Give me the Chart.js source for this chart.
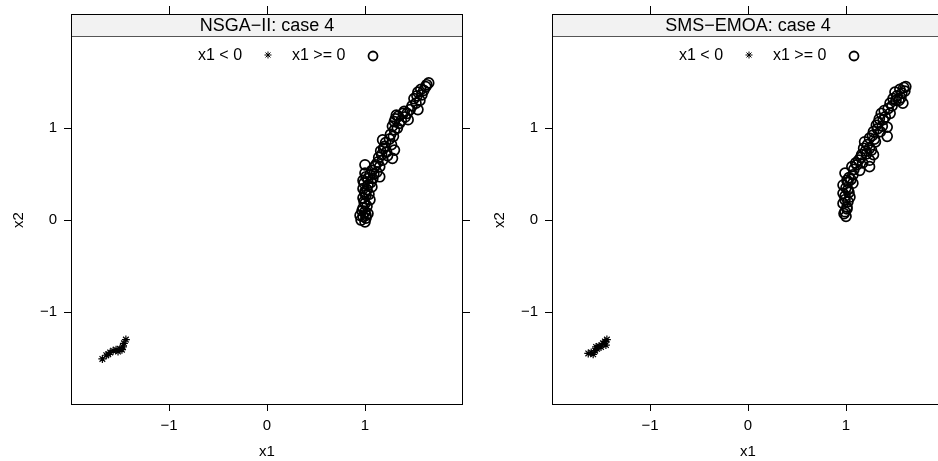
<!DOCTYPE html>
<html>
<head>
<meta charset="utf-8">
<script src="https://cdn.jsdelivr.net/npm/chart.js@4.4.1/dist/chart.umd.min.js"></script>
<style>
  html, body { margin: 0; padding: 0; background: #fff; overflow: hidden; width: 938px; height: 461px; }
  .panel { position: absolute; top: 0; width: 481px; height: 461px; }
</style>
</head>
<body>
<div class="panel" style="left:0"><canvas id="nsga" width="481" height="461"></canvas></div>
<div class="panel" style="left:481px"><canvas id="sms" width="481" height="461"></canvas></div>
<script>
// ─── Data ─────────────────────────────────────────────────
const X_TICKS = [-1, 0, 1];
const Y_TICKS = [-1, 0, 1];
const LEGEND_LABELS = ['x1 < 0', 'x1 >= 0'];

// NSGA-II, x1 >= 0 (circles)
const NSGA_POS_X = [1.65, 1.60, 1.54, 1.56, 1.52, 1.54, 1.46, 1.44, 1.39, 1.32, 1.30, 1.35, 1.30, 1.29, 1.18,
  1.20, 1.27, 1.30, 1.22, 1.17, 1.28, 1.18, 1.13, 1.15, 1.10, 1.07, 1.00, 1.05, 1.15, 1.00, 1.08, 0.98,
  1.03, 1.07, 0.98, 1.00, 0.98, 1.05, 1.00, 0.98, 1.00, 0.95, 1.01, 1.00, 1.01, 0.98,
  1.02, 0.99, 1.01, 1.03, 1.12, 1.25, 1.33, 1.41, 1.48, 1.58, 1.62,
  0.97, 1.03, 0.99, 1.02, 1.00, 1.04, 0.96, 1.01, 1.06, 1.09, 1.11, 1.14, 1.16, 1.19, 1.21, 1.23,
  1.26, 1.28, 1.31, 1.34, 1.37, 1.40, 1.43, 1.50, 1.53, 1.57, 1.63];
const NSGA_POS_Y = [1.49, 1.41, 1.39, 1.30, 1.27, 1.20, 1.20, 1.09, 1.16, 1.14, 1.07, 1.05, 0.98, 0.91, 0.87,
  0.80, 0.82, 0.76, 0.74, 0.71, 0.67, 0.65, 0.63, 0.58, 0.58, 0.54, 0.60, 0.49, 0.47, 0.51, 0.45, 0.43,
  0.38, 0.36, 0.34, 0.29, 0.24, 0.22, 0.18, 0.13, 0.09, 0.05, 0.02, -0.02, 0.05, 0.04,
  0.33, 0.40, 0.27, 0.45, 0.52, 0.88, 1.00, 1.12, 1.24, 1.36, 1.45,
  0.10, 0.07, 0.20, 0.15, 0.31, 0.28, 0.00, 0.47, 0.41, 0.50, 0.60, 0.68, 0.75, 0.78, 0.84, 0.70,
  0.93, 1.02, 1.10, 1.13, 1.08, 1.18, 1.16, 1.32, 1.35, 1.42, 1.47];

// NSGA-II, x1 < 0 (stars)
const NSGA_NEG_X = [-1.68, -1.64, -1.62, -1.60, -1.57, -1.54, -1.52, -1.50, -1.48, -1.47, -1.46, -1.44];
const NSGA_NEG_Y = [-1.51, -1.47, -1.46, -1.44, -1.42, -1.41, -1.43, -1.40, -1.41, -1.38, -1.34, -1.30];

// SMS-EMOA, x1 >= 0 (circles)
const SMS_POS_X = [1.61, 1.57, 1.50, 1.58, 1.51, 1.45, 1.45, 1.36, 1.38, 1.42, 1.31, 1.35, 1.42, 1.28, 1.24,
  1.30, 1.19, 1.24, 1.28, 1.18, 1.16, 1.24, 1.24, 1.13, 1.14, 1.06, 1.07, 0.99, 1.01, 1.07, 0.97, 1.02,
  0.97, 1.04, 0.99, 1.01, 0.99, 1.00, 0.97,
  1.03, 1.10, 1.20, 1.33, 1.40, 1.48, 1.55, 1.60, 1.00, 1.02,
  0.98, 1.01, 1.03, 0.99, 1.02, 1.05, 1.08, 1.11, 1.15, 1.17, 1.21, 1.22, 1.26, 1.27, 1.29, 1.32,
  1.34, 1.37, 1.39, 1.43, 1.47, 1.52, 1.54, 1.59, 1.56];
const SMS_POS_Y = [1.45, 1.38, 1.39, 1.27, 1.30, 1.27, 1.16, 1.16, 1.09, 1.01, 1.03, 0.96, 0.91, 0.96, 0.89,
  0.85, 0.85, 0.78, 0.71, 0.78, 0.71, 0.65, 0.58, 0.65, 0.54, 0.58, 0.49, 0.51, 0.43, 0.40, 0.38, 0.33,
  0.29, 0.25, 0.22, 0.14, 0.09, 0.04, 0.18,
  0.46, 0.62, 0.75, 1.06, 1.12, 1.32, 1.42, 1.40, 0.35, 0.20,
  0.07, 0.12, 0.30, 0.26, 0.41, 0.44, 0.55, 0.60, 0.68, 0.62, 0.72, 0.82, 0.76, 0.92, 0.88, 0.99,
  1.10, 1.02, 1.19, 1.21, 1.24, 1.35, 1.30, 1.44, 1.33];

// SMS-EMOA, x1 < 0 (stars)
const SMS_NEG_X = [-1.63, -1.60, -1.58, -1.56, -1.55, -1.54, -1.52, -1.50, -1.48, -1.46, -1.45, -1.44];
const SMS_NEG_Y = [-1.45, -1.44, -1.46, -1.42, -1.38, -1.40, -1.37, -1.38, -1.34, -1.32, -1.36, -1.30];

// ─── Styling ──────────────────────────────────────────────
const FONT = "'Liberation Sans', Arial, Helvetica, sans-serif";
const INK = '#000';
const STRIP_BG = '#f2f2f2';

Chart.defaults.font.family = FONT;
Chart.defaults.color = INK;

const toPoints = (xs, ys) => xs.map((x, i) => ({ x, y: ys[i] }));
const fmt = v => (v < 0 ? '\u2212' + Math.abs(v) : String(v));

// strip, box, mirrored ticks and in-panel key, lattice style
const latticePanel = {
  id: 'latticePanel',
  afterDraw(chart, args, opts) {
    const { ctx, chartArea: a, scales } = chart;
    const stripTop = 14;
    ctx.save();

    // strip
    ctx.fillStyle = STRIP_BG;
    ctx.fillRect(a.left, stripTop, a.right - a.left, a.top - stripTop);
    ctx.strokeStyle = '#555';
    ctx.lineWidth = 1;
    ctx.beginPath();
    ctx.moveTo(a.left, a.top + 0.5);
    ctx.lineTo(a.right, a.top + 0.5);
    ctx.stroke();
    ctx.fillStyle = INK;
    ctx.font = '18px ' + FONT;
    ctx.textAlign = 'center';
    ctx.textBaseline = 'middle';
    ctx.fillText(opts.title, (a.left + a.right) / 2, (stripTop + a.top) / 2 + 1);

    // outer box
    ctx.strokeStyle = INK;
    ctx.strokeRect(a.left + 0.5, stripTop + 0.5, a.right - a.left - 1, a.bottom - stripTop);

    // top ticks (above strip) and right ticks
    ctx.beginPath();
    X_TICKS.forEach(v => {
      const x = Math.round(scales.x.getPixelForValue(v)) + 0.5;
      ctx.moveTo(x, stripTop);
      ctx.lineTo(x, stripTop - 8);
    });
    Y_TICKS.forEach(v => {
      const y = Math.round(scales.y.getPixelForValue(v)) + 0.5;
      ctx.moveTo(a.right, y);
      ctx.lineTo(a.right + 7, y);
    });
    ctx.stroke();

    // key
    const ky = a.top + 20;
    ctx.font = '16px ' + FONT;
    ctx.textAlign = 'left';
    ctx.textBaseline = 'middle';
    ctx.fillText(LEGEND_LABELS[0], a.left + 127, ky);
    ctx.fillText(LEGEND_LABELS[1], a.left + 221, ky);
    ctx.fillStyle = INK;
    Chart.helpers.drawPoint(ctx, { pointStyle: 'star', radius: 3.5, borderWidth: 1.3 }, a.left + 197, ky - 1);
    ctx.fillStyle = 'rgba(0,0,0,0)';
    ctx.lineWidth = 1.8;
    Chart.helpers.drawPoint(ctx, { pointStyle: 'circle', radius: 4.5, borderWidth: 1.8 }, a.left + 302, ky);
    ctx.restore();
  }
};

function createPanel(canvasId, title, posX, posY, negX, negY) {
  const ctx = document.getElementById(canvasId);
  return new Chart(ctx, {
    type: 'scatter',
    data: {
      datasets: [
        {
          label: LEGEND_LABELS[0],
          data: toPoints(negX, negY),
          pointStyle: 'star',
          radius: 4,
          borderWidth: 1.2,
          borderColor: INK,
          backgroundColor: INK,
        },
        {
          label: LEGEND_LABELS[1],
          data: toPoints(posX, posY),
          pointStyle: 'circle',
          radius: 5,
          borderWidth: 1.7,
          borderColor: INK,
          backgroundColor: 'transparent',
        }
      ]
    },
    options: {
      responsive: false,
      animation: false,
      layout: { padding: { top: 36, right: 18, left: 0, bottom: 0 } },
      plugins: {
        legend: { display: false },
        tooltip: { enabled: false },
        latticePanel: { title }
      },
      scales: {
        x: {
          type: 'linear',
          min: -2, max: 2,
          afterBuildTicks: s => { s.ticks = X_TICKS.map(value => ({ value })); },
          afterFit: s => { s.height = 57; },
          border: { display: false },
          grid: { drawOnChartArea: false, drawTicks: true, tickLength: 7, color: INK },
          ticks: { font: { size: 15 }, padding: 6, callback: fmt, maxRotation: 0 },
          title: { display: true, text: 'x1', font: { size: 15 }, padding: { top: 4, bottom: 0 } }
        },
        y: {
          type: 'linear',
          min: -2, max: 2,
          afterBuildTicks: s => { s.ticks = Y_TICKS.map(value => ({ value })); },
          afterFit: s => { s.width = 71; },
          border: { display: false },
          grid: { drawOnChartArea: false, drawTicks: true, tickLength: 7, color: INK },
          ticks: { font: { size: 15 }, padding: 7, callback: fmt },
          title: { display: true, text: 'x2', font: { size: 15 }, padding: { top: 10, bottom: 0 } }
        }
      }
    },
    plugins: [latticePanel]
  });
}

createPanel('nsga', 'NSGA\u2212II: case 4', NSGA_POS_X, NSGA_POS_Y, NSGA_NEG_X, NSGA_NEG_Y);
createPanel('sms', 'SMS\u2212EMOA: case 4', SMS_POS_X, SMS_POS_Y, SMS_NEG_X, SMS_NEG_Y);
</script>
</body>
</html>
